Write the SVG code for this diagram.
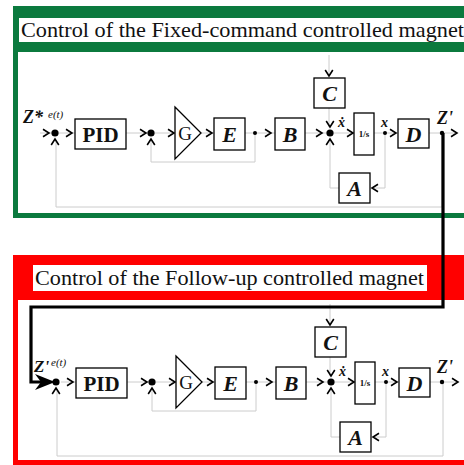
<svg xmlns="http://www.w3.org/2000/svg" width="464" height="465" viewBox="0 0 464 465">
<defs>
<path id="chev" d="M-6,-3.8 L0,0 L-6,3.8" fill="none" stroke="#000" stroke-width="1.6"/>
</defs>
<style>
.box{fill:#fff;stroke:#000;stroke-width:1.3}
.faint{fill:none;stroke:#cccccc;stroke-width:1}
.bi{font-family:"Liberation Serif",serif;font-weight:bold;font-style:italic;fill:#111}
.bt{font-family:"Liberation Serif",serif;font-weight:bold;fill:#111}
.rg{font-family:"Liberation Serif",serif;fill:#111}
.title{font-family:"Liberation Serif",serif;font-size:21px;fill:#111}
.c{text-anchor:middle}
</style>
<rect width="464" height="465" fill="#fff"/>
<g id="frame-fixed">
<rect x="13" y="6" width="460" height="212" fill="#0b7a3e"/>
<rect x="18" y="52" width="455" height="161" fill="#fff"/>
<rect x="19" y="18" width="454" height="24" fill="#fff"/>
<text x="21" y="37" class="title" textLength="443" lengthAdjust="spacingAndGlyphs">Control of the Fixed-command controlled magnet</text>
</g>
<g id="frame-follow">
<rect x="13" y="255" width="460" height="215" fill="#f00"/>
<rect x="18" y="300" width="455" height="160" fill="#fff"/>
<rect x="33" y="265" width="394" height="26" fill="#fff"/>
<text x="35" y="285" class="title" textLength="389" lengthAdjust="spacingAndGlyphs">Control of the Follow-up controlled magnet</text>
</g>

<!-- top panel -->
<g id="top-panel">
<g id="connectors-top">
<path class="faint" d="M40,133 H457"/>
<path class="faint" d="M255,133 V162 H151 V140"/>
<path class="faint" d="M329,55 V76 M329,108 V127"/>
<path class="faint" d="M385,133 V188 H372 M339,188 H330 V140"/>
<path class="faint" d="M442,133 V207 H56 V140"/>
<use href="#chev" transform="translate(49,133)"/>
<use href="#chev" transform="translate(55,139) rotate(-90)"/>
<use href="#chev" transform="translate(72,133)"/>
<use href="#chev" transform="translate(146,133)"/>
<use href="#chev" transform="translate(151,139) rotate(-90)"/>
<use href="#chev" transform="translate(174,133)"/>
<use href="#chev" transform="translate(212,133)"/>
<use href="#chev" transform="translate(271,133)"/>
<use href="#chev" transform="translate(322,133)"/>
<use href="#chev" transform="translate(330,127) rotate(90)"/>
<use href="#chev" transform="translate(330,139) rotate(-90)"/>
<use href="#chev" transform="translate(353,133)"/>
<use href="#chev" transform="translate(396,133)"/>
<use href="#chev" transform="translate(457,133)"/>
<use href="#chev" transform="translate(329,76) rotate(90)"/>
<use href="#chev" transform="translate(372,188) rotate(180)"/>
</g>
<g id="sum1"><circle cx="55" cy="133" r="3.6"/></g>
<g id="pid"><rect class="box" x="75" y="119" width="51" height="30"/><text class="bt c" x="100.5" y="141.5" font-size="21">PID</text></g>
<g id="sum2"><circle cx="151" cy="133" r="3.6"/></g>
<g id="gain"><polygon class="box" points="175,107 201,133 175,159"/><text class="rg c" x="185" y="140" font-size="19">G</text></g>
<g id="e"><rect class="box" x="214" y="118" width="31" height="32"/><text class="bi c" x="229.5" y="141.5" font-size="22">E</text></g>
<g id="branch1"><circle cx="255" cy="133" r="2"/></g>
<g id="b"><rect class="box" x="275" y="118" width="30" height="32"/><text class="bi c" x="290" y="141.5" font-size="22">B</text></g>
<g id="c"><rect class="box" x="314" y="78" width="31" height="30"/><text class="bi c" x="329.5" y="100.5" font-size="22">C</text></g>
<g id="sum3"><circle cx="330" cy="133" r="3.6"/></g>
<g id="integ"><rect class="box" x="354" y="113" width="20" height="42"/><text class="bt c" x="364" y="137" font-size="9">1/s</text></g>
<g id="branch2"><circle cx="385" cy="133" r="2"/></g>
<g id="d"><rect class="box" x="398" y="119" width="31" height="29"/><text class="bi c" x="413.5" y="141.5" font-size="22">D</text></g>
<g id="a"><rect class="box" x="339" y="173" width="31" height="30"/><text class="bi c" x="354.5" y="195.5" font-size="22">A</text></g>
<g id="branch3"><circle cx="442" cy="133" r="2.2"/></g>
<g id="labels-top">
<text class="bi" x="23" y="123" font-size="18">Z*</text>
<text class="rg" x="48" y="118" font-size="11" font-style="italic">e(t)</text>
<text class="bi" x="338" y="127" font-size="14">ẋ</text>
<text class="bi" x="381" y="127" font-size="14">x</text>
<text class="bi" x="437" y="124" font-size="18">Z'</text>
</g>
</g>

<!-- bottom panel -->
<g id="bottom-panel" transform="translate(1,249)">
<g id="connectors-bottom">
<path class="faint" d="M60,133 H457"/>
<path class="faint" d="M255,133 V162 H151 V140"/>
<path class="faint" d="M329,55 V76 M329,108 V127"/>
<path class="faint" d="M385,133 V188 H372 M339,188 H330 V140"/>
<path class="faint" d="M442,133 V207 H56 V140"/>
<use href="#chev" transform="translate(55,139) rotate(-90)"/>
<use href="#chev" transform="translate(72,133)"/>
<use href="#chev" transform="translate(146,133)"/>
<use href="#chev" transform="translate(151,139) rotate(-90)"/>
<use href="#chev" transform="translate(174,133)"/>
<use href="#chev" transform="translate(212,133)"/>
<use href="#chev" transform="translate(271,133)"/>
<use href="#chev" transform="translate(322,133)"/>
<use href="#chev" transform="translate(330,127) rotate(90)"/>
<use href="#chev" transform="translate(330,139) rotate(-90)"/>
<use href="#chev" transform="translate(353,133)"/>
<use href="#chev" transform="translate(396,133)"/>
<use href="#chev" transform="translate(457,133)"/>
<use href="#chev" transform="translate(329,76) rotate(90)"/>
<use href="#chev" transform="translate(372,188) rotate(180)"/>
</g>
<g id="sum1b"><circle cx="55" cy="133" r="3.6"/></g>
<g id="pidb"><rect class="box" x="75" y="119" width="51" height="30"/><text class="bt c" x="100.5" y="141.5" font-size="21">PID</text></g>
<g id="sum2b"><circle cx="151" cy="133" r="3.6"/></g>
<g id="gainb"><polygon class="box" points="175,107 201,133 175,159"/><text class="rg c" x="185" y="140" font-size="19">G</text></g>
<g id="eb"><rect class="box" x="214" y="118" width="31" height="32"/><text class="bi c" x="229.5" y="141.5" font-size="22">E</text></g>
<g id="branch1b"><circle cx="255" cy="133" r="2"/></g>
<g id="bb"><rect class="box" x="275" y="118" width="30" height="32"/><text class="bi c" x="290" y="141.5" font-size="22">B</text></g>
<g id="cb"><rect class="box" x="314" y="78" width="31" height="30"/><text class="bi c" x="329.5" y="100.5" font-size="22">C</text></g>
<g id="sum3b"><circle cx="330" cy="133" r="3.6"/></g>
<g id="integb"><rect class="box" x="354" y="113" width="20" height="42"/><text class="bt c" x="364" y="137" font-size="9">1/s</text></g>
<g id="branch2b"><circle cx="385" cy="133" r="2"/></g>
<g id="db"><rect class="box" x="398" y="119" width="31" height="29"/><text class="bi c" x="413.5" y="141.5" font-size="22">D</text></g>
<g id="ab"><rect class="box" x="339" y="173" width="31" height="30"/><text class="bi c" x="354.5" y="195.5" font-size="22">A</text></g>
<g id="branch3b"><circle cx="441" cy="133" r="2.2"/></g>
<g id="labels-bottom">
<text class="bi" x="33" y="123" font-size="17">Z'</text>
<text class="rg" x="50" y="117" font-size="11" font-style="italic">e(t)</text>
<text class="bi" x="338" y="127" font-size="14">ẋ</text>
<text class="bi" x="381" y="127" font-size="14">x</text>
<text class="bi" x="436" y="124" font-size="18">Z'</text>
</g>
</g>

<!-- link between panels -->
<g id="link">
<path d="M443,133 V307 H31 V382 H44" fill="none" stroke="#000" stroke-width="3.2"/>
<polygon points="35,374 55,382 35,390 41,382" fill="#000"/>
</g>
</svg>
